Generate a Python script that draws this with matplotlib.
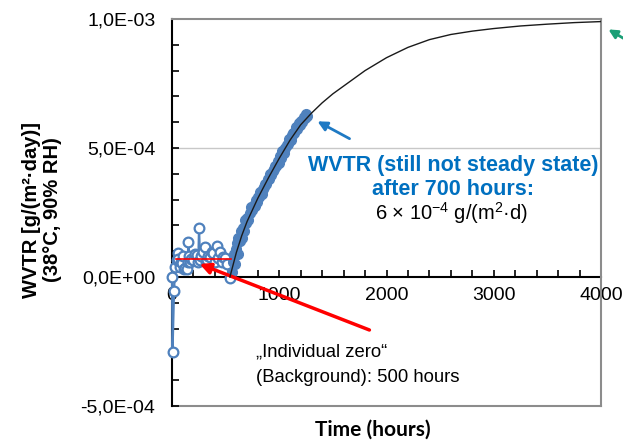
import matplotlib
matplotlib.use("Agg")
import matplotlib.pyplot as plt
from matplotlib.ticker import MultipleLocator, FixedLocator, FuncFormatter

plt.rcParams['font.family'] = ['Liberation Sans', 'DejaVu Sans']
plt.rcParams['mathtext.fontset'] = 'custom'
plt.rcParams['mathtext.rm'] = 'Liberation Sans'

# Background ("individual zero") phase, open markers
bg_time = [0, 5, 19, 30, 43, 52, 59, 70, 80, 90, 100, 110, 121, 137, 145, 153,
           160, 168, 180, 199, 215, 230, 245, 252, 262, 275, 293, 308, 316, 324,
           340, 355, 371, 386, 400, 417, 433, 449, 464, 480, 495, 510, 542]
bg_wvtr = [0.0, -2.9e-4, -5.4e-5, 4.0e-5, 6.6e-5, 9.2e-5, 7.0e-5, 4.0e-5, 6.0e-5,
           5.3e-5, 8.0e-5, 3.0e-5, 3.4e-5, 3.0e-5, 6.0e-5, 1.37e-4, 8.0e-5, 5.9e-5,
           7.0e-5, 6.6e-5, 9.0e-5, 8.5e-5, 6.0e-5, 1.91e-4, 6.6e-5, 8.0e-5, 9.8e-5,
           1.17e-4, 6.0e-5, 6.6e-5, 8.0e-5, 7.9e-5, 9.8e-5, 9.2e-5, 6.0e-5, 1.21e-4,
           7.2e-5, 9.8e-5, 5.9e-5, 7.9e-5, 7.2e-5, 5.0e-5, -5.0e-6]

# Permeation phase, filled markers
perm_time = [555, 565, 575, 585, 595, 605, 612, 620, 630, 640, 650, 660, 670, 680,
             690, 700, 712, 725, 735, 745, 760, 770, 780, 792, 800, 812, 825, 835,
             845, 858, 870, 880, 892, 905, 915, 925, 938, 950, 960, 972, 985, 995,
             1008, 1020, 1030, 1042, 1055, 1068, 1080, 1092, 1105, 1118, 1130,
             1142, 1155, 1168, 1180, 1192, 1205, 1215, 1228, 1240, 1250, 1260]
perm_wvtr = [0.2e-4, 0.6e-4, 0.9e-4, 0.5e-4, 1.1e-4, 1.3e-4, 0.9e-4, 1.5e-4,
             1.4e-4, 1.8e-4, 1.5e-4, 1.9e-4, 1.8e-4, 2.2e-4, 2.1e-4, 2.3e-4,
             2.2e-4, 2.5e-4, 2.7e-4, 2.6e-4, 2.8e-4, 2.75e-4, 3.0e-4, 2.9e-4,
             3.1e-4, 3.1e-4, 3.3e-4, 3.2e-4, 3.4e-4, 3.5e-4, 3.6e-4, 3.6e-4,
             3.8e-4, 3.8e-4, 4.0e-4, 3.95e-4, 4.1e-4, 4.2e-4, 4.3e-4, 4.3e-4,
             4.5e-4, 4.4e-4, 4.7e-4, 4.6e-4, 4.9e-4, 4.8e-4, 5.0e-4, 5.1e-4,
             5.15e-4, 5.35e-4, 5.3e-4, 5.5e-4, 5.6e-4, 5.6e-4, 5.8e-4, 5.75e-4,
             5.95e-4, 5.9e-4, 6.05e-4, 6.0e-4, 6.2e-4, 6.15e-4, 6.3e-4, 6.25e-4]

# Fitted permeation curve
fit_time = [540, 600, 650, 700, 800, 900, 1000, 1100, 1200, 1300, 1400, 1500,
            1650, 1800, 2000, 2200, 2400, 2600, 2800, 3000, 3250, 3500, 3750, 4000]
fit_wvtr = [0.0, 0.95e-4, 1.6e-4, 2.15e-4, 3.05e-4, 3.85e-4, 4.6e-4, 5.3e-4,
            5.9e-4, 6.35e-4, 6.75e-4, 7.1e-4, 7.55e-4, 8.0e-4, 8.5e-4, 8.9e-4,
            9.2e-4, 9.4e-4, 9.53e-4, 9.63e-4, 9.73e-4, 9.8e-4, 9.86e-4, 9.9e-4]

# Background level
zero_level = 6.9e-5
zero_span = [40, 550]

blue = '#4f81bd'
frame_gray = '#8c8c8c'

fig = plt.figure(figsize=(6.23, 4.41), dpi=100)
ax = fig.add_axes([172 / 623, 35 / 441, 429 / 623, 387 / 441])
ax.set_xlim(0, 4000)
ax.set_ylim(-5e-4, 1e-3)

ax.axhline(5e-4, color='#c8c8c8', lw=1.0, zorder=1)
ax.axhline(-5e-4, color=frame_gray, lw=1.5, zorder=1, clip_on=False)

ax.plot(bg_time, bg_wvtr, color=blue, lw=1.6, marker='o', ms=7,
        mfc='white', mec=blue, mew=1.6, zorder=3, clip_on=False)
ax.plot(perm_time, perm_wvtr, ls='none', marker='o', ms=7,
        mfc=blue, mec=blue, zorder=3)
ax.plot(fit_time, fit_wvtr, color='#1a1a1a', lw=1.0, zorder=4)
ax.plot(zero_span, [zero_level, zero_level], color='#ff0000', lw=1.2, zorder=5)

# Spines
ax.spines['left'].set_color('black')
ax.spines['left'].set_linewidth(1.5)
ax.spines['bottom'].set_position(('data', 0))
ax.spines['bottom'].set_color('black')
ax.spines['bottom'].set_linewidth(1.5)
ax.spines['bottom'].set_zorder(2)
for s in ('top', 'right'):
    ax.spines[s].set_color(frame_gray)
    ax.spines[s].set_linewidth(1.5)

# Ticks
ax.xaxis.set_major_locator(MultipleLocator(1000))
ax.xaxis.set_minor_locator(MultipleLocator(200))
ax.yaxis.set_major_locator(FixedLocator([-5e-4, 0, 5e-4, 1e-3]))
ax.yaxis.set_minor_locator(MultipleLocator(1e-4))
ax.tick_params(axis='both', which='both', direction='in', length=5, width=1.2,
               labelsize=14, color='black')
ax.tick_params(axis='x', pad=7)
ax.tick_params(axis='y', pad=12)
ax.yaxis.set_major_formatter(FuncFormatter(lambda v, p: f"{v:.1E}".replace('.', ',')))

fig.text(373 / 623, 1 - 430 / 441, 'Time (hours)', ha='center', va='center',
         fontsize=15, fontweight='bold', family=['Lato', 'DejaVu Sans'])
ax.set_ylabel('WVTR [g/(m²·day)]\n(38°C, 90% RH)', fontsize=14.5, fontweight='bold',
              linespacing=1.15)
ax.yaxis.set_label_coords((62 - 172) / 429, (441 - 210 - 35) / 387)

# Annotations
ax.text(453 / 623, 1 - 165 / 441, 'WVTR (still not steady state)', transform=fig.transFigure,
        ha='center', va='center', fontsize=15.5, fontweight='bold', color='#0070c0')
ax.text(453 / 623, 1 - 190 / 441, 'after 700 hours:', transform=fig.transFigure,
        ha='center', va='center', fontsize=15.5, fontweight='bold', color='#0070c0')
ax.text(452 / 623, 1 - 213 / 441,
        r'6 × 10$^{\mathregular{-4}}$ g/(m$^{\mathregular{2}}$·d)',
        transform=fig.transFigure, ha='center', va='center', fontsize=14.5, color='black')
fig.text(256 / 623, 1 - 352 / 441, '„Individual zero“', ha='left', va='center',
         fontsize=13.3, color='black')
fig.text(256 / 623, 1 - 377 / 441, '(Background): 500 hours', ha='left', va='center',
         fontsize=13.3, color='black')

ax.annotate('', xy=(315, 441 - 120), xytext=(352, 441 - 140),
            xycoords='figure pixels', textcoords='figure pixels',
            arrowprops=dict(arrowstyle='-|>', color='#1f7ac4', lw=2,
                            mutation_scale=14), annotation_clip=False)
ax.annotate('', xy=(197, 441 - 263), xytext=(372, 441 - 331),
            xycoords='figure pixels', textcoords='figure pixels',
            arrowprops=dict(arrowstyle='-|>', color='#ff0000', lw=2.5,
                            mutation_scale=16), annotation_clip=False)
ax.annotate('', xy=(606, 441 - 28), xytext=(628, 441 - 41),
            xycoords='figure pixels', textcoords='figure pixels',
            arrowprops=dict(arrowstyle='-|>', color='#1a9f76', lw=2,
                            mutation_scale=13), annotation_clip=False)

fig.savefig('out.png', dpi=100)
